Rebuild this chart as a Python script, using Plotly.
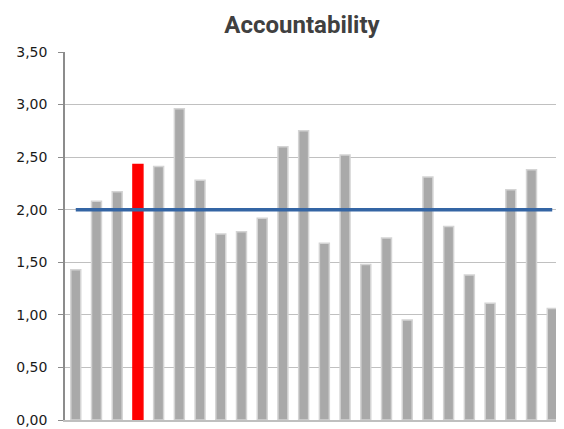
import plotly.graph_objects as go

categories = list(range(1, 25))
values = [1.43, 2.08, 2.17, 2.43, 2.41, 2.96, 2.28, 1.77, 1.79, 1.92, 2.60, 2.75,
          1.68, 2.52, 1.48, 1.73, 0.95, 2.31, 1.84, 1.38, 1.11, 2.19, 2.38, 1.06]
highlight_index = 3
reference_value = 2.0
y_ticks = [0, 0.5, 1.0, 1.5, 2.0, 2.5, 3.0, 3.5]

colors = ["#ff0000" if i == highlight_index else "#a9a9a9" for i in range(len(values))]
line_colors = ["#ff0000" if i == highlight_index else "#d4d4d4" for i in range(len(values))]

# page body has an 8px default margin: the figure is sized/offset to compensate
W, H = 556, 421

fig = go.Figure()
fig.add_trace(go.Bar(x=categories, y=values, marker=dict(color=colors, line=dict(color=line_colors, width=1.5)),
                     width=0.48, showlegend=False, hoverinfo="y"))
fig.add_trace(go.Scatter(x=categories, y=[reference_value] * len(categories), mode="lines",
                         line=dict(color="#3465a4", width=3.5), showlegend=False))

fig.update_layout(
    width=W, height=H,
    margin=dict(l=57, r=1, t=44, b=9),
    paper_bgcolor="white", plot_bgcolor="white",
    separators=",.",
    title=dict(text="<b>Accountability</b>", x=294 / W, xanchor="center", y=1 - 17 / H, yanchor="middle",
               font=dict(family="Roboto", size=24, color="#404040")),
    bargap=0.5,
    xaxis=dict(range=[0.48, 24.52], showticklabels=False, showgrid=False, zeroline=False,
               showline=True, linecolor="#bfbfbf", linewidth=1.5, ticks=""),
    yaxis=dict(range=[0, 3.5], tickvals=y_ticks, tickformat=".2f", showgrid=True,
               gridcolor="#c0c0c0", gridwidth=1.2, zeroline=False, showline=True,
               linecolor="#8c8c8c", linewidth=1.5, ticks="outside", ticklen=5, tickcolor="#8c8c8c",
               ticklabelstandoff=8,
               tickfont=dict(family="DejaVu Sans", size=14, color="#1a1a1a")),
)

fig.write_html("out.html")
